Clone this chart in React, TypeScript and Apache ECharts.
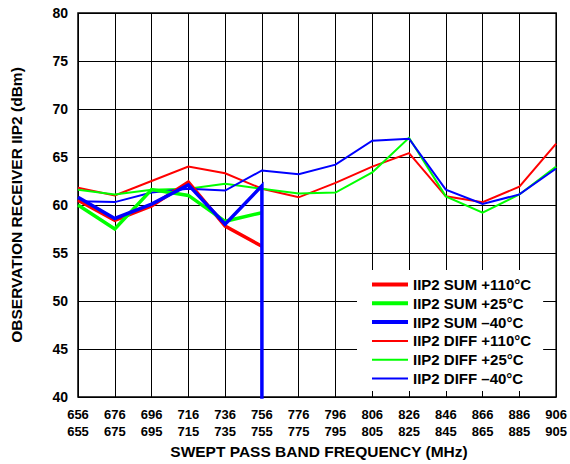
import React, { useEffect, useRef } from "react";
import * as echarts from "echarts";

const freqTop = ["656", "676", "696", "716", "736", "756", "776", "796", "806", "826", "846", "866", "886", "906"];
const freqBottom = ["655", "675", "695", "715", "735", "755", "775", "795", "805", "825", "845", "865", "885", "905"];

const sum110 = [60.5, 58.4, 59.9, 62.4, 57.8, 55.7];
const sum25 = [60.0, 57.5, 61.6, 61.0, 58.3, 59.2];
const sumM40 = [60.8, 58.6, 60.1, 62.1, 58.0, 62.0];
const sumM40Drop = 30; // second reading at index 5, off scale below 40
const diff110 = [61.8, 61.0, 62.5, 64.0, 63.3, 61.7, 60.8, 62.3, 64.0, 65.4, 60.9, 60.3, 61.9, 66.4];
const diff25 = [61.6, 61.1, 61.6, 61.7, 62.2, 61.7, 61.2, 61.3, 63.4, 67.0, 60.9, 59.2, 61.1, 64.0];
const diffM40 = [60.4, 60.3, 61.3, 61.7, 61.5, 63.6, 63.2, 64.2, 66.7, 66.9, 61.6, 60.1, 61.1, 63.8];

const seriesNames = [
  "IIP2 SUM +110°C",
  "IIP2 SUM +25°C",
  "IIP2 SUM \u201340°C",
  "IIP2 DIFF +110°C",
  "IIP2 DIFF +25°C",
  "IIP2 DIFF \u201340°C",
];

const RED = "#ff0000";
const GREEN = "#00ff00";
const BLUE = "#0000ff";
const FONT = "'Liberation Sans', Arial, sans-serif";

const toPairs = (arr: number[]) => arr.map((v, i) => [i, v]);

export default function App() {
  const ref = useRef<HTMLDivElement>(null);
  useEffect(() => {
    if (!ref.current) return;
    const chart = echarts.init(ref.current, null, { renderer: "svg" });
    const thick = 3.5;
    const thin = 2;
    const mk = (name: string, data: number[][], color: string, width: number, z: number) => ({
      name,
      type: "line",
      data,
      symbol: "none",
      showSymbol: false,
      z,
      lineStyle: { color, width, join: "miter" },
      itemStyle: { color },
    });
    const blueSumData = toPairs(sumM40);
    blueSumData.push([sumM40.length - 1, sumM40Drop]);
    const legendItem = (name: string, w: number) => ({
      name,
      lineStyle: { width: w },
      itemStyle: { opacity: 0 },
    });
    chart.setOption({
      animation: false,
      backgroundColor: "#fff",
      grid: { left: 78, right: 12, top: 13, bottom: 67, show: true, borderColor: "#000", borderWidth: 1.5 },
      xAxis: {
        type: "value",
        min: 0,
        max: freqTop.length - 1,
        interval: 1,
        axisLine: { show: false },
        axisTick: { show: false },
        splitLine: { show: true, lineStyle: { color: "#000", width: 1 } },
        axisLabel: {
          margin: 9,
          fontFamily: FONT,
          fontWeight: "bold",
          fontSize: 13,
          lineHeight: 17,
          color: "#000",
          formatter: (v: number) => `${freqTop[v]}\n${freqBottom[v]}`,
        },
      },
      yAxis: {
        type: "value",
        min: 40,
        max: 80,
        interval: 5,
        axisLine: { show: false },
        axisTick: { show: false },
        splitLine: { show: true, lineStyle: { color: "#000", width: 1 } },
        axisLabel: { margin: 10, fontFamily: FONT, fontWeight: "bold", fontSize: 14, color: "#000" },
      },
      legend: {
        orient: "vertical",
        left: 357,
        top: 270,
        backgroundColor: "#fff",
        padding: [7, 12, 5, 13],
        itemWidth: 36,
        itemHeight: 15,
        itemGap: 3.8,
        textStyle: { fontFamily: FONT, fontWeight: "bold", fontSize: 15, lineHeight: 15, color: "#000" },
        data: [
          legendItem(seriesNames[0], 4),
          legendItem(seriesNames[1], 4),
          legendItem(seriesNames[2], 4),
          legendItem(seriesNames[3], 2),
          legendItem(seriesNames[4], 2),
          legendItem(seriesNames[5], 2),
        ],
      },
      graphic: [
        {
          type: "text",
          x: 16,
          y: 205,
          rotation: Math.PI / 2,
          style: {
            text: "OBSERVATION RECEIVER IIP2 (dBm)",
            fontFamily: FONT,
            fontWeight: "bold",
            fontSize: 15.5,
            fill: "#000",
            textAlign: "center",
            textVerticalAlign: "middle",
          },
        },
        {
          type: "text",
          x: 319,
          y: 451,
          style: {
            text: "SWEPT PASS BAND FREQUENCY (MHz)",
            fontFamily: FONT,
            fontWeight: "bold",
            fontSize: 15.5,
            fill: "#000",
            textAlign: "center",
            textVerticalAlign: "middle",
          },
        },
      ],
      series: [
        mk(seriesNames[0], toPairs(sum110), RED, thick, 3),
        mk(seriesNames[1], toPairs(sum25), GREEN, thick, 3),
        mk(seriesNames[2], blueSumData, BLUE, thick, 3),
        mk(seriesNames[3], toPairs(diff110), RED, thin, 2),
        mk(seriesNames[4], toPairs(diff25), GREEN, thin, 2),
        mk(seriesNames[5], toPairs(diffM40), BLUE, thin, 2),
      ],
    });
    return () => chart.dispose();
  }, []);
  return <div ref={ref} style={{ width: 570, height: 464, position: "absolute", left: 0, top: 0 }} />;
}
